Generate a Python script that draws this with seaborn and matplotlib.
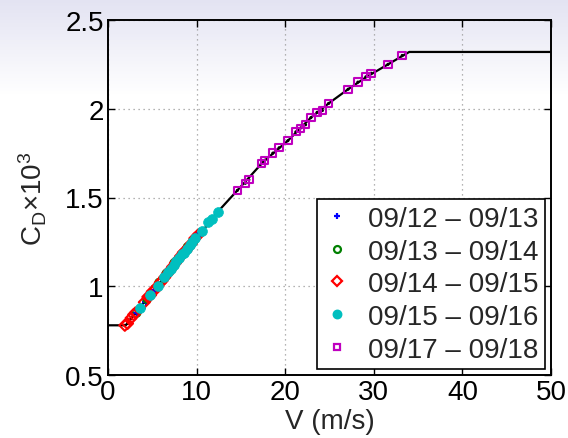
import numpy as np
import matplotlib
matplotlib.use("Agg")
import matplotlib.pyplot as plt
import seaborn as sns
from matplotlib.ticker import FuncFormatter

# Drag-law curve (knots), wind speed V in m/s, C_D x 10^3
curve_v = [0.0, 2.0, 6.0, 10.0, 12.4, 14.6, 17.5, 20.3, 22.9, 24.9, 27.1, 29.2, 31.6, 34.0, 50.0]
curve_cd = [0.78, 0.78, 1.03, 1.27, 1.42, 1.54, 1.70, 1.82, 1.95, 2.03, 2.11, 2.18, 2.25, 2.32, 2.32]

# Observations per period
labels = ["09/12 \u2013 09/13", "09/13 \u2013 09/14", "09/14 \u2013 09/15",
          "09/15 \u2013 09/16", "09/17 \u2013 09/18"]

v_1213 = [3.3, 3.8, 4.3, 5.3, 5.6, 9.6, 10.4]
cd_1213 = [0.85, 0.88, 0.91, 0.98, 1.00, 1.25, 1.30]

v_1314 = [3.2, 4.4, 5.8, 6.6, 7.5, 8.4, 9.0, 9.7]
cd_1314 = [0.85, 0.93, 1.02, 1.07, 1.13, 1.18, 1.22, 1.26]

v_1415 = [1.9, 2.2, 2.6, 2.9, 3.1, 4.1, 4.5, 4.8, 5.0, 5.3, 5.6, 5.9, 6.1,
          6.4, 6.7, 7.0, 7.3, 7.6, 7.9, 8.2, 8.5, 8.8, 9.1, 9.4, 9.8, 10.2]
cd_1415 = [0.78, 0.79, 0.82, 0.84, 0.85, 0.91, 0.94, 0.95, 0.97, 0.98, 1.00,
           1.02, 1.03, 1.05, 1.07, 1.09, 1.11, 1.13, 1.15, 1.17, 1.19, 1.20,
           1.22, 1.24, 1.27, 1.29]

v_1516 = [3.6, 4.7, 5.6, 6.3, 6.8, 7.1, 7.4, 7.7, 8.0, 8.3, 8.6, 8.9, 9.2,
          9.5, 9.8, 10.6, 11.3, 11.7, 12.4]
cd_1516 = [0.88, 0.95, 1.00, 1.05, 1.08, 1.10, 1.12, 1.14, 1.16, 1.18, 1.19,
           1.21, 1.23, 1.25, 1.27, 1.31, 1.36, 1.38, 1.42]

v_1718 = [14.6, 15.5, 15.9, 17.3, 17.7, 18.6, 19.3, 20.3, 21.2, 21.7, 22.3,
          22.9, 23.6, 24.2, 24.9, 27.1, 28.2, 29.1, 29.7, 31.6, 33.2]
cd_1718 = [1.54, 1.58, 1.60, 1.69, 1.71, 1.75, 1.78, 1.82, 1.87, 1.89, 1.91,
           1.95, 1.98, 1.99, 2.03, 2.11, 2.15, 2.18, 2.20, 2.25, 2.30]

x_ticks = [0, 10, 20, 30, 40, 50]
y_ticks = [0.5, 1.0, 1.5, 2.0, 2.5]

sns.set_theme(style="ticks")
plt.rcParams["font.family"] = ["Liberation Sans", "DejaVu Sans"]
plt.rcParams["mathtext.fontset"] = "custom"
plt.rcParams["mathtext.rm"] = "Liberation Sans"
plt.rcParams["mathtext.it"] = "Liberation Sans"

W, H = 568, 439
fig = plt.figure(figsize=(W / 100, H / 100), dpi=100)
fig.patch.set_facecolor("white")

# soft lavender backdrop fading to white toward the middle
bg = fig.add_axes([0, 0, 1, 1], zorder=-10)
rows = np.arange(H)
t = np.clip(rows / 95.0, 0, 1)[:, None]
top = np.array([0.89, 0.89, 0.95])
img = top * (1 - t) + np.ones(3) * t
bg.imshow(np.repeat(img[:, None, :], 4, axis=1), aspect="auto",
          extent=[0, 1, 0, 1], origin="upper")
bg.axis("off")

ax = fig.add_axes([108 / W, 1 - 376 / H, (551 - 108) / W, (376 - 21) / H])
ax.set_facecolor("none")

# curve with a dot at every observation
sns.lineplot(x=curve_v, y=curve_cd, ax=ax, color="black", lw=1.6,
             sort=False, estimator=None, zorder=2)
all_v = v_1213 + v_1314 + v_1415 + v_1516 + v_1718
all_cd = cd_1213 + cd_1314 + cd_1415 + cd_1516 + cd_1718
sns.scatterplot(x=all_v, y=all_cd, ax=ax, color="black", s=5,
                edgecolor="none", zorder=3)

series = [
    (v_1213, cd_1213, "+", "#0000ff", 34, True),
    (v_1314, cd_1314, "o", "#008000", 34, False),
    (v_1415, cd_1415, "D", "#ff0000", 32, False),
    (v_1516, cd_1516, "o", "#00bfbf", 50, True),
    (v_1718, cd_1718, "s", "#bf00bf", 28, False),
]
handles = []
for (vx, cy, mk, col, sz, filled), lab in zip(series, labels):
    if mk == "+":
        sns.scatterplot(x=vx, y=cy, ax=ax, marker=mk, color=col, s=sz,
                        linewidth=1.6, zorder=4)
    elif filled:
        sns.scatterplot(x=vx, y=cy, ax=ax, marker=mk, color=col, s=sz,
                        edgecolor=col, linewidth=0.5, zorder=4)
    else:
        sns.scatterplot(x=vx, y=cy, ax=ax, marker=mk, color=col, s=sz,
                        facecolors="none", edgecolor=col, linewidth=1.5,
                        zorder=4)
    handles.append(plt.Line2D([], [], ls="", marker=mk,
                              markersize=5 if mk != "o" or not filled else 5.5,
                              mfc=col if (filled or mk == "+") else "none",
                              mec=col, mew=1.6))

ax.set_xlim(0, 50)
ax.set_ylim(0.5, 2.5)
ax.set_xticks(x_ticks)
ax.set_yticks(y_ticks)
ax.yaxis.set_major_formatter(FuncFormatter(lambda v, p: f"{v:g}"))
ax.grid(True, color="#9a9a9a", lw=0.9, dashes=(1, 3))
ax.tick_params(direction="in", length=5, width=1, top=True, right=True,
               labelsize=20, pad=3, colors="black")
for s in ax.spines.values():
    s.set_visible(True)
    s.set_linewidth(1.4)
    s.set_color("black")

ax.set_xlabel("V (m/s)", fontsize=20, labelpad=2)
ax.set_ylabel(r"C$_\mathrm{D}$×10$^3$", fontsize=20, labelpad=12)

leg = ax.legend(handles, labels, loc="lower right", fontsize=20,
                frameon=True, fancybox=False, framealpha=1,
                edgecolor="black", borderaxespad=0.2, labelspacing=0.24,
                handlelength=1.0, handletextpad=0.6, borderpad=0.25)
leg.get_frame().set_linewidth(1.2)

fig.savefig("out.png", dpi=100)
